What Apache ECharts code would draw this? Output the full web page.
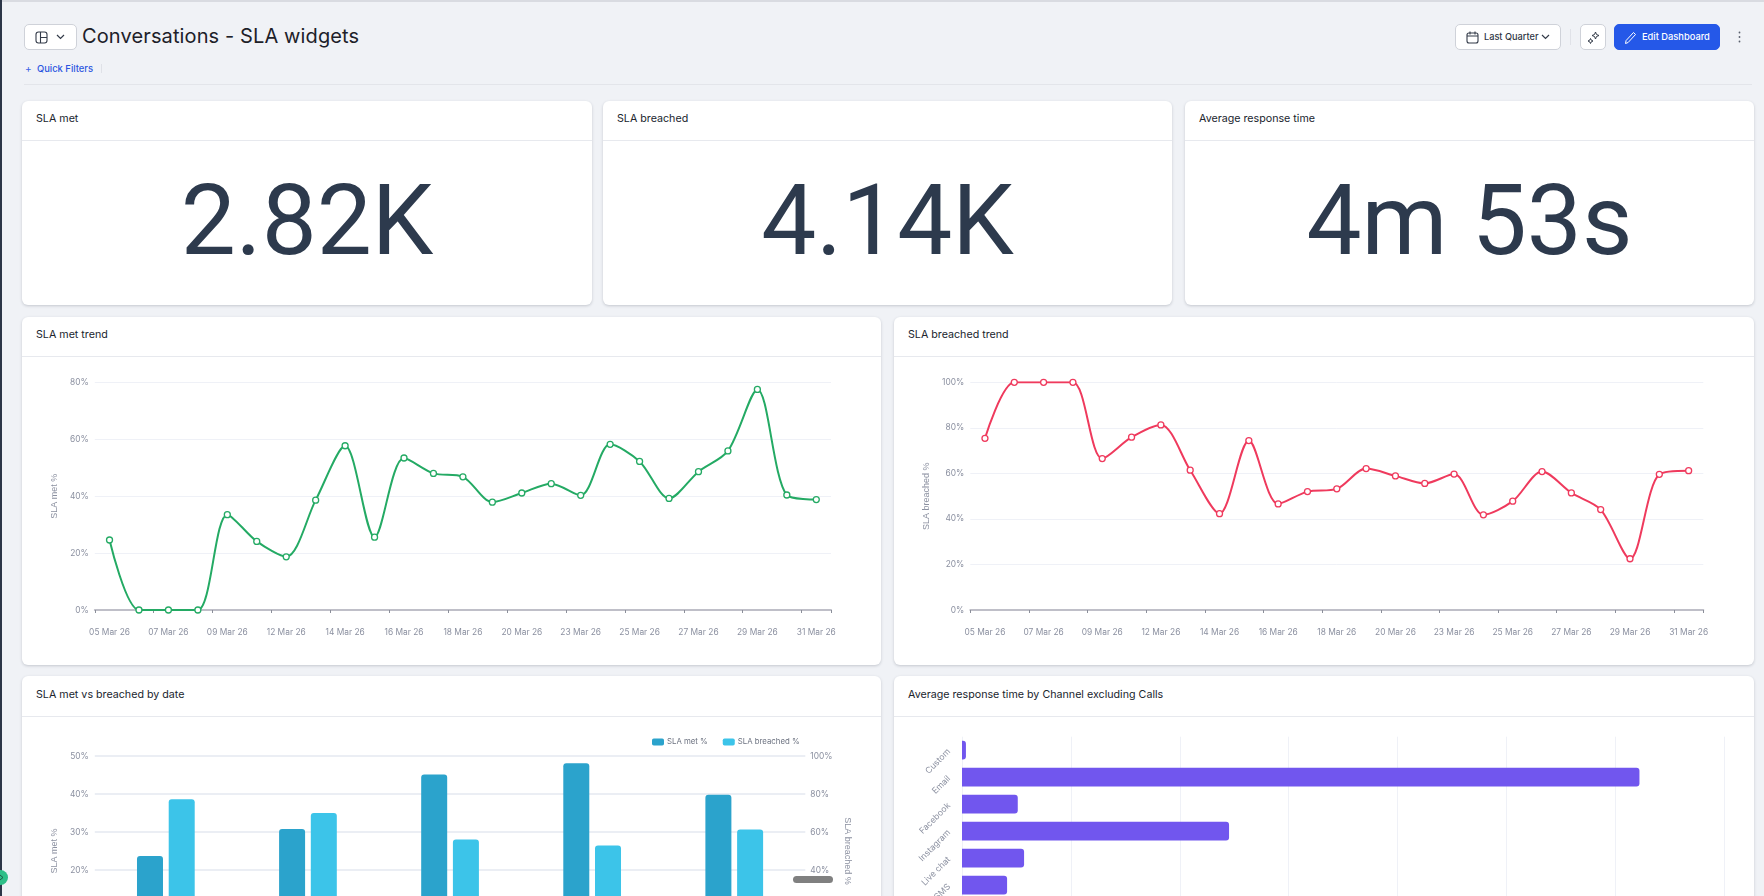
<!DOCTYPE html>
<html>
<head>
<meta charset="utf-8">
<title>Conversations - SLA widgets</title>
<script src="https://cdn.jsdelivr.net/npm/echarts@6/dist/echarts.min.js"></script>
<style>
html,body{margin:0;padding:0;width:1764px;height:896px;overflow:hidden;background:#f0f2f6;font-family:Inter,"Noto Sans",sans-serif;color:#1f2530;}
.abs{position:absolute;box-sizing:border-box;}
.card{position:absolute;box-sizing:border-box;background:#fff;border-radius:6px;box-shadow:0 1px 3px rgba(40,50,70,.22);}
.card .head{position:absolute;left:0;right:0;top:0;border-bottom:1px solid #e7e9ee;}
.card .ttl{position:absolute;left:14px;top:11px;font-size:10.7px;line-height:14px;font-weight:400;color:#20252e;white-space:nowrap;}
.kpi{position:absolute;left:0;right:0;top:38px;height:166px;line-height:163px;text-align:center;font-family:Roboto,Inter,sans-serif;font-size:98px;font-weight:400;color:#2d3a4d;white-space:nowrap;}
.btn{position:absolute;box-sizing:border-box;background:#fff;border:1px solid #cfd2d9;border-radius:5px;height:26px;top:24px;}
.chart{position:absolute;}
svg{position:absolute;display:block;}
</style>
</head>
<body>
<div class="abs" style="left:0;top:0;width:1764px;height:2px;background:#d9dbe1"></div>
<div class="abs" style="left:0;top:0;width:2px;height:896px;background:#2c3648"></div>

<div class="btn" style="left:24px;width:53px">
  <svg style="left:10px;top:6px" width="13" height="13" viewBox="0 0 13 13" fill="none" stroke="#333b49" stroke-width="1.1"><rect x="1" y="1" width="11" height="11" rx="2.5"/><path d="M5.5 1v11M5.5 6.5H12"/></svg>
  <svg style="left:31px;top:9px" width="9" height="6" viewBox="0 0 9 6" fill="none" stroke="#333b49" stroke-width="1.2"><path d="M1 1l3.5 3.5L8 1"/></svg>
</div>
<div class="abs" style="left:82px;top:22px;font-size:20px;line-height:28px;font-weight:400;color:#1d2129;white-space:nowrap;letter-spacing:.12px">Conversations - SLA widgets</div>
<div class="abs" style="left:25px;top:62px;font-size:10px;line-height:13px;color:#3a63e6">+</div>
<div class="abs" style="left:37px;top:62px;font-size:9.4px;line-height:13px;font-weight:500;color:#2b55e0;white-space:nowrap">Quick Filters</div>
<div class="abs" style="left:101px;top:64px;width:1px;height:9px;background:#dfe1e7"></div>
<div class="abs" style="left:24px;top:84px;width:1728px;height:1px;background:#e3e5ea"></div>

<div class="btn" style="left:1455px;width:106px">
  <svg style="left:10px;top:6px" width="13" height="13" viewBox="0 0 13 13" fill="none" stroke="#333b49" stroke-width="1.1"><rect x="1" y="2" width="11" height="10" rx="2"/><path d="M1 5h11M4 .5v3M9 .5v3"/></svg>
  <div class="abs" style="left:28px;top:5px;font-size:9.2px;line-height:14px;font-weight:500;color:#2f3644;white-space:nowrap">Last Quarter</div>
  <svg style="left:85px;top:9px" width="9" height="6" viewBox="0 0 9 6" fill="none" stroke="#333b49" stroke-width="1.2"><path d="M1 1l3.5 3.5L8 1"/></svg>
</div>
<div class="abs" style="left:1570px;top:29px;width:1px;height:16px;background:#e0e2e8"></div>
<div class="btn" style="left:1580px;width:26px">
  <svg style="left:6px;top:6px" width="13" height="13" viewBox="0 0 13 13" fill="none" stroke="#333b49" stroke-width="1"><path d="M8.5 1l1 2.5 2.5 1-2.5 1-1 2.5-1-2.5-2.5-1 2.5-1zM3.5 7.5l.8 1.7 1.7.8-1.7.8-.8 1.7-.8-1.7-1.7-.8 1.7-.8z"/></svg>
</div>
<div class="btn" style="left:1614px;width:106px;background:#2558e8;border-color:#2558e8">
  <svg style="left:9px;top:6px" width="13" height="14" viewBox="0 0 13 14" fill="none" stroke="#fff" stroke-width="1"><path d="M1.5 12.5l.6-3L9.5 1.5l2 2-7.4 8z"/></svg>
  <div class="abs" style="left:27px;top:5px;font-size:9.3px;line-height:14px;font-weight:500;color:#fff;white-space:nowrap">Edit Dashboard</div>
</div>
<svg style="left:1737px;top:31px" width="5" height="12" viewBox="0 0 5 12" fill="#59606d"><circle cx="2.5" cy="1.5" r=".9"/><circle cx="2.5" cy="6" r=".9"/><circle cx="2.5" cy="10.5" r=".9"/></svg>

<div class="card" style="left:22px;top:101px;width:570px;height:204px"><div class="head" style="height:39px"></div><div class="ttl" id="t1"></div><div class="kpi" id="k1"></div></div>
<div class="card" style="left:603px;top:101px;width:569px;height:204px"><div class="head" style="height:39px"></div><div class="ttl" id="t2"></div><div class="kpi" id="k2"></div></div>
<div class="card" style="left:1185px;top:101px;width:569px;height:204px"><div class="head" style="height:39px"></div><div class="ttl" id="t3"></div><div class="kpi" id="k3"></div></div>

<div class="card" style="left:22px;top:317px;width:859px;height:348px"><div class="head" style="height:39px"></div><div class="ttl" id="t4"></div></div>
<div class="card" style="left:894px;top:317px;width:860px;height:348px"><div class="head" style="height:39px"></div><div class="ttl" id="t5"></div></div>
<div class="card" style="left:22px;top:676px;width:859px;height:340px"><div class="head" style="height:40px"></div><div class="ttl" id="t6" style="top:12px"></div></div>
<div class="card" style="left:894px;top:676px;width:860px;height:340px"><div class="head" style="height:40px"></div><div class="ttl" id="t7" style="top:12px"></div></div>

<div class="chart" id="c1" style="left:22px;top:356px;width:859px;height:308px"></div>
<div class="chart" id="c2" style="left:894px;top:356px;width:860px;height:308px"></div>
<div class="chart" id="c3" style="left:22px;top:716px;width:859px;height:300px"></div>
<div class="chart" id="c4" style="left:894px;top:716px;width:860px;height:200px"></div>

<div class="abs" style="left:793px;top:876px;width:40px;height:7px;border-radius:4px;background:#808080"></div>
<div class="abs" style="left:-7px;top:870px;width:15px;height:15px;border-radius:7.5px;background:#2fbf88"></div>
<svg style="left:0;top:874px" width="5" height="7" viewBox="0 0 5 7" fill="none" stroke="#1d5a45" stroke-width="1"><path d="M0 1l3 2.5L0 6"/></svg>

<script>
var dashboardTitles = ['SLA met','SLA breached','Average response time','SLA met trend','SLA breached trend','SLA met vs breached by date','Average response time by Channel excluding Calls'];
var kpiValues = ['2.82K','4.14K','4m 53s'];

var trendDates = ['05 Mar 26','06 Mar 26','07 Mar 26','08 Mar 26','09 Mar 26','11 Mar 26','12 Mar 26','13 Mar 26','14 Mar 26','15 Mar 26','16 Mar 26','17 Mar 26','18 Mar 26','19 Mar 26','20 Mar 26','22 Mar 26','23 Mar 26','24 Mar 26','25 Mar 26','26 Mar 26','27 Mar 26','28 Mar 26','29 Mar 26','30 Mar 26','31 Mar 26'];
var slaMetTrend = [24.6,0,0,0,33.5,24.1,18.7,38.6,57.7,25.6,53.4,48,46.8,37.9,41.1,44.4,40.3,58.2,52.2,39.2,48.6,55.9,77.5,40.4,38.8];
var slaBreachedTrend = [75.4,100,100,100,66.5,75.9,81.3,61.4,42.3,74.4,46.6,52,53.2,62.1,58.9,55.6,59.7,41.8,47.8,60.8,51.4,44.1,22.5,59.6,61.2];

var periodNames = ['Period 1','Period 2','Period 3','Period 4','Period 5'];
var periodMet = [23.7,30.8,45.1,48.1,39.8];
var periodBreached = [77.2,70,56,52.9,61.3];

var channelNames = ['Custom','Email','Facebook','Instagram','Live chat','SMS'];
var channelResponse = [0.18,31.1,2.56,12.26,2.85,2.07];

dashboardTitles.forEach(function(t,i){document.getElementById('t'+(i+1)).textContent=t;});
kpiValues.forEach(function(t,i){document.getElementById('k'+(i+1)).textContent=t;});

var FONT='Inter';
var LABEL='#8b90a0', GRID='#eff1f7', AXIS='#bfbfc8';
var pct=function(v){return v+'%';};

function trend(id,name,data,color,max,gridLeft,gridWidth,gap){
  var c=echarts.init(document.getElementById(id));
  c.setOption({
    animation:false,
    grid:{left:gridLeft,top:26.3,width:gridWidth,height:227.7,containLabel:false},
    xAxis:{type:'category',data:trendDates,boundaryGap:true,
      axisLine:{lineStyle:{color:AXIS,width:2}},
      axisTick:{show:true,alignWithLabel:false,interval:1,length:3,lineStyle:{color:'#8b8f9a',width:1}},
      axisLabel:{interval:1,margin:18,fontSize:8.4,fontFamily:FONT,color:LABEL},
      splitLine:{show:false}},
    yAxis:{type:'value',min:0,max:max,interval:20,name:name,nameLocation:'middle',
      nameGap:gap,
      nameTextStyle:{fontSize:9,fontFamily:'Liberation Sans',color:LABEL},
      axisLine:{show:false},axisTick:{show:false},
      axisLabel:{formatter:pct,fontSize:8.4,fontFamily:FONT,color:LABEL,margin:6},
      splitLine:{lineStyle:{color:GRID,width:1}}},
    series:[{type:'line',data:data,smooth:0.3,symbol:'circle',symbolSize:6,
      lineStyle:{color:color,width:2},
      itemStyle:{color:'#fff',borderColor:color,borderWidth:1.3}}]
  });
}
trend('c1','SLA met %',slaMetTrend,'#24aa64',80,72.8,736.2,35);
trend('c2','SLA breached %',slaBreachedTrend,'#ef3a5d',100,76.3,733,33);

var c3=echarts.init(document.getElementById('c3'));
c3.setOption({
  animation:false,
  legend:{top:17,left:625,itemWidth:12,itemHeight:7,itemGap:15,icon:'roundRect',
    textStyle:{fontSize:7.8,fontFamily:FONT,color:'#6c7280',padding:[0,0,0,-2]},
    data:['SLA met %','SLA breached %']},
  grid:{left:72.8,top:40,width:710.5,height:190},
  xAxis:{type:'category',data:periodNames,axisLabel:{fontSize:8.4,fontFamily:FONT,color:LABEL},axisTick:{show:false},
    axisLine:{lineStyle:{color:AXIS,width:2}}},
  yAxis:[
   {type:'value',min:0,max:50,interval:10,name:'SLA met %',nameLocation:'middle',nameGap:35,
    nameTextStyle:{fontSize:9,fontFamily:'Liberation Sans',color:LABEL},
    axisLine:{show:false},axisTick:{show:false},
    axisLabel:{formatter:pct,fontSize:8.4,fontFamily:FONT,color:LABEL,margin:6},
    splitLine:{lineStyle:{color:'#ebeef4',width:2}}},
   {type:'value',min:0,max:100,interval:20,name:'SLA breached %',nameLocation:'middle',nameGap:33,nameRotate:-90,
    nameTextStyle:{fontSize:9,fontFamily:'Liberation Sans',color:LABEL},
    axisLine:{show:false},axisTick:{show:false},
    axisLabel:{formatter:pct,fontSize:8.4,fontFamily:FONT,color:LABEL,margin:5},
    splitLine:{show:false}}
  ],
  series:[
   {name:'SLA met %',type:'bar',data:periodMet,yAxisIndex:0,barWidth:26,barGap:'22%',itemStyle:{color:'#2ba3cc',borderRadius:[3,3,0,0]}},
   {name:'SLA breached %',type:'bar',data:periodBreached,yAxisIndex:1,barWidth:26,itemStyle:{color:'#3cc4e9',borderRadius:[3,3,0,0]}}
  ]
});

var c4=echarts.init(document.getElementById('c4'));
c4.setOption({
  animation:false,
  grid:{left:68,top:20.7,width:762.4,height:162},
  xAxis:{type:'value',min:0,max:35,interval:5,axisLine:{show:false},axisTick:{show:false},
    axisLabel:{fontSize:8.4,fontFamily:FONT,color:LABEL},
    splitLine:{lineStyle:{color:GRID,width:1}}},
  yAxis:{type:'category',inverse:true,data:channelNames,axisLine:{show:false},axisTick:{show:false},
    axisLabel:{rotate:45,margin:13,padding:[0,0,4,0],fontSize:8.6,fontFamily:FONT,color:LABEL,interval:0}},
  series:[{type:'bar',data:channelResponse,barWidth:18.7,itemStyle:{color:'#7156ee',borderRadius:[0,3,3,0]}}]
});
</script>
</body>
</html>
